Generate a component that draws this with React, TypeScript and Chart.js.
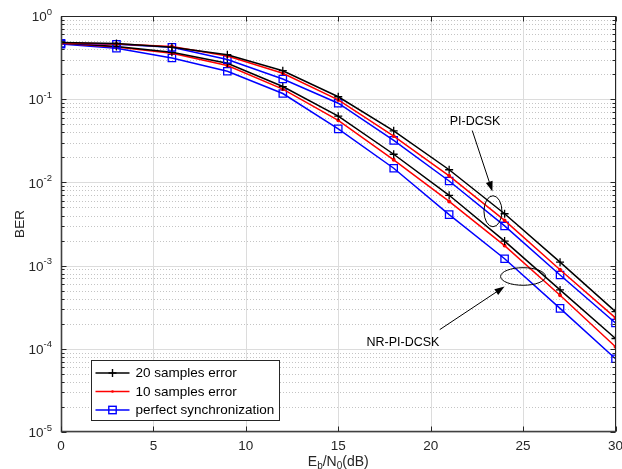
import React, { useEffect, useRef } from "react";
import { Chart, registerables } from "chart.js";

Chart.register(...registerables);

// ---------- data ----------
const snrDb = [0, 3, 6, 9, 12, 15, 18, 21, 24, 27, 30];

// PI-DCSK (upper group)
const piDcsk20 = [0.48, 0.467, 0.42, 0.343, 0.22, 0.107, 0.0417, 0.0142, 0.0042, 0.0011, 0.00028];
const piDcsk10 = [0.475, 0.462, 0.43, 0.331, 0.205, 0.098, 0.036, 0.012, 0.0035, 0.00089, 0.000235];
const piDcskPerfect = [0.47, 0.457, 0.42, 0.3, 0.175, 0.0895, 0.032, 0.0104, 0.003, 0.00077, 0.000204];

// NR-PI-DCSK (lower group)
const nrPiDcsk20 = [0.475, 0.43, 0.366, 0.27, 0.142, 0.0625, 0.0218, 0.007, 0.00197, 0.00051, 0.000133];
const nrPiDcsk10 = [0.47, 0.425, 0.356, 0.254, 0.132, 0.0557, 0.0187, 0.0059, 0.00174, 0.00044, 0.000106];
const nrPiDcskPerfect = [0.46, 0.41, 0.313, 0.217, 0.117, 0.044, 0.0148, 0.0041, 0.00121, 0.000306, 0.000076];

const legendLabels = ["20 samples error", "10 samples error", "perfect synchronization"];
const xTickValues = [0, 5, 10, 15, 20, 25, 30];
const yDecadeExponents = [0, -1, -2, -3, -4, -5];
const annotationTexts = ["PI-DCSK", "NR-PI-DCSK"];

// annotation anchor points in data coordinates [x (dB), y (BER)]
const piTextAt = [22.4, 0.0534];
const piArrowFrom = [22.25, 0.042];
const piArrowTo = [23.34, 0.0078];
const piEllipseAt = [23.37, 0.0045];
const nrTextAt = [18.5, 0.00012];
const nrArrowFrom = [20.49, 0.00017];
const nrArrowTo = [24.0, 0.00056];
const nrEllipseAt = [25.0, 0.00074];

// ---------- styles ----------
const FONT = '"Liberation Sans", Arial, Helvetica, sans-serif';
const AXIS_COLOR = "#262626";
const seriesStyles = [
  { color: "#000000", pointStyle: "cross", radius: 4 },
  { color: "#ff0000", pointStyle: "circle", radius: 1.3 },
  { color: "#0000ff", pointStyle: "rect", radius: 5.2 },
];

function toPoints(vals: number[]) {
  return snrDb.map((x, i) => ({ x, y: vals[i] }));
}

function makeDataset(vals: number[], styleIdx: number, label: string) {
  const s = seriesStyles[styleIdx];
  return {
    label,
    data: toPoints(vals),
    borderColor: s.color,
    backgroundColor: styleIdx === 1 ? s.color : "rgba(0,0,0,0)",
    borderWidth: 1.5,
    pointStyle: s.pointStyle,
    pointRadius: s.radius,
    pointBorderColor: s.color,
    pointBackgroundColor: styleIdx === 1 ? s.color : "rgba(0,0,0,0)",
    pointBorderWidth: 1.3,
    tension: 0,
    fill: false,
  };
}

type Part = { t: string; size: number; dy: number };

function richWidth(ctx: CanvasRenderingContext2D, parts: Part[]) {
  let w = 0;
  for (const p of parts) {
    ctx.font = `${p.size}px ${FONT}`;
    w += ctx.measureText(p.t).width;
  }
  return w;
}

function drawRich(ctx: CanvasRenderingContext2D, parts: Part[], x: number, y: number, align: "left" | "right" | "center") {
  const w = richWidth(ctx, parts);
  let cx = align === "left" ? x : align === "right" ? x - w : x - w / 2;
  ctx.textAlign = "left";
  ctx.textBaseline = "middle";
  for (const p of parts) {
    ctx.font = `${p.size}px ${FONT}`;
    ctx.fillText(p.t, cx, y + p.dy);
    cx += ctx.measureText(p.t).width;
  }
}

function drawArrow(ctx: CanvasRenderingContext2D, x1: number, y1: number, x2: number, y2: number) {
  const ang = Math.atan2(y2 - y1, x2 - x1);
  const headLen = 10;
  const headW = 3.5;
  ctx.beginPath();
  ctx.moveTo(x1, y1);
  ctx.lineTo(x2 - Math.cos(ang) * headLen * 0.8, y2 - Math.sin(ang) * headLen * 0.8);
  ctx.stroke();
  ctx.beginPath();
  ctx.moveTo(x2, y2);
  ctx.lineTo(
    x2 - Math.cos(ang) * headLen + Math.sin(ang) * headW,
    y2 - Math.sin(ang) * headLen - Math.cos(ang) * headW
  );
  ctx.lineTo(
    x2 - Math.cos(ang) * headLen - Math.sin(ang) * headW,
    y2 - Math.sin(ang) * headLen + Math.cos(ang) * headW
  );
  ctx.closePath();
  ctx.fill();
}

const decorPlugin = {
  id: "matlabDecor",
  beforeDatasetsDraw(chart: any) {
    const { ctx, chartArea: a, scales } = chart;
    const xs = scales.x;
    const ys = scales.y;
    ctx.save();
    ctx.lineWidth = 1;
    // minor dotted y grid
    ctx.strokeStyle = "#c4c4c4";
    ctx.setLineDash([1, 2]);
    for (let e = -5; e < 0; e++) {
      for (let m = 2; m <= 9; m++) {
        const py = Math.round(ys.getPixelForValue(m * Math.pow(10, e))) + 0.5;
        ctx.beginPath();
        ctx.moveTo(a.left, py);
        ctx.lineTo(a.right, py);
        ctx.stroke();
      }
    }
    ctx.setLineDash([]);
    // major grid
    ctx.strokeStyle = "#dcdcdc";
    for (const e of yDecadeExponents) {
      const py = Math.round(ys.getPixelForValue(Math.pow(10, e))) + 0.5;
      ctx.beginPath();
      ctx.moveTo(a.left, py);
      ctx.lineTo(a.right, py);
      ctx.stroke();
    }
    for (const v of xTickValues) {
      const px = Math.round(xs.getPixelForValue(v)) + 0.5;
      ctx.beginPath();
      ctx.moveTo(px, a.top);
      ctx.lineTo(px, a.bottom);
      ctx.stroke();
    }
    ctx.restore();
  },
  afterDatasetsDraw(chart: any) {
    const { ctx, chartArea: a, scales } = chart;
    const xs = scales.x;
    const ys = scales.y;
    const P = (d: number[]) => [xs.getPixelForValue(d[0]), ys.getPixelForValue(d[1])];
    ctx.save();

    // box
    ctx.strokeStyle = AXIS_COLOR;
    ctx.lineWidth = 1;
    const L = Math.round(a.left) + 0.5;
    const R = Math.round(a.right) - 0.5;
    const T = Math.round(a.top) + 0.5;
    const B = Math.round(a.bottom) - 0.5;
    ctx.strokeRect(L, T, R - L, B - T);
    // heavier left & bottom axes
    ctx.strokeStyle = "#404040";
    ctx.lineWidth = 1.6;
    ctx.beginPath();
    ctx.moveTo(L, T);
    ctx.lineTo(L, B);
    ctx.lineTo(R, B);
    ctx.stroke();
    ctx.strokeStyle = AXIS_COLOR;
    ctx.lineWidth = 1;

    // x ticks (inward, top & bottom)
    for (const v of xTickValues) {
      const px = Math.round(xs.getPixelForValue(v)) + 0.5;
      ctx.beginPath();
      ctx.moveTo(px, B);
      ctx.lineTo(px, B - 5);
      ctx.moveTo(px, T);
      ctx.lineTo(px, T + 5);
      ctx.stroke();
    }
    // y ticks (inward, left & right), major and minor
    for (let e = -5; e <= 0; e++) {
      for (let m = 1; m <= 9; m++) {
        if (e === 0 && m > 1) break;
        const py = Math.round(ys.getPixelForValue(m * Math.pow(10, e))) + 0.5;
        const len = m === 1 ? 5 : 3;
        ctx.beginPath();
        ctx.moveTo(L, py);
        ctx.lineTo(L + len, py);
        ctx.moveTo(R, py);
        ctx.lineTo(R - len, py);
        ctx.stroke();
      }
    }

    // tick labels
    ctx.fillStyle = AXIS_COLOR;
    ctx.font = `13.5px ${FONT}`;
    ctx.textAlign = "center";
    ctx.textBaseline = "middle";
    for (const v of xTickValues) {
      ctx.fillText(String(v), xs.getPixelForValue(v), a.bottom + 14);
    }
    for (const e of yDecadeExponents) {
      const py = ys.getPixelForValue(Math.pow(10, e));
      drawRich(
        ctx,
        [
          { t: "10", size: 13.5, dy: 1.5 },
          { t: e === 0 ? "0" : "-" + String(-e), size: 9.5, dy: -4 },
        ],
        a.left - 9,
        py,
        "right"
      );
    }

    // axis titles
    drawRich(
      ctx,
      [
        { t: "E", size: 14, dy: 0 },
        { t: "b", size: 10, dy: 4 },
        { t: "/N", size: 14, dy: 0 },
        { t: "0", size: 10, dy: 4 },
        { t: "(dB)", size: 14, dy: 0 },
      ],
      (a.left + a.right) / 2,
      a.bottom + 30,
      "center"
    );
    ctx.save();
    ctx.translate(20, (a.top + a.bottom) / 2);
    ctx.rotate(-Math.PI / 2);
    ctx.font = `13.5px ${FONT}`;
    ctx.textAlign = "center";
    ctx.textBaseline = "middle";
    ctx.fillText("BER", 0, 0);
    ctx.restore();

    // annotations
    ctx.strokeStyle = "#000";
    ctx.fillStyle = "#000";
    ctx.lineWidth = 1;
    ctx.font = `12.5px ${FONT}`;
    ctx.textAlign = "center";
    ctx.textBaseline = "middle";
    let p = P(piTextAt);
    ctx.fillText(annotationTexts[0], p[0], p[1]);
    let f = P(piArrowFrom), t = P(piArrowTo);
    drawArrow(ctx, f[0], f[1], t[0], t[1]);
    p = P(piEllipseAt);
    ctx.beginPath();
    ctx.ellipse(p[0], p[1], 9, 15.5, 0, 0, Math.PI * 2);
    ctx.stroke();

    p = P(nrTextAt);
    ctx.fillText(annotationTexts[1], p[0], p[1]);
    f = P(nrArrowFrom);
    t = P(nrArrowTo);
    drawArrow(ctx, f[0], f[1], t[0], t[1]);
    p = P(nrEllipseAt);
    ctx.beginPath();
    ctx.ellipse(p[0], p[1], 22.5, 8.8, 0, 0, Math.PI * 2);
    ctx.stroke();

    // legend
    const lx = a.left + 30.5;
    const ly = a.bottom - 71.5;
    const lw = 188;
    const lh = 60;
    ctx.fillStyle = "#fff";
    ctx.fillRect(lx, ly, lw, lh);
    ctx.strokeStyle = AXIS_COLOR;
    ctx.lineWidth = 1;
    ctx.strokeRect(lx, ly, lw, lh);
    for (let i = 0; i < legendLabels.length; i++) {
      const s = seriesStyles[i];
      const ry = ly + 12.5 + i * 18.5;
      ctx.strokeStyle = s.color;
      ctx.lineWidth = 1.4;
      ctx.beginPath();
      ctx.moveTo(lx + 4, ry);
      ctx.lineTo(lx + 38, ry);
      ctx.stroke();
      const mx = lx + 21;
      if (s.pointStyle === "cross") {
        ctx.beginPath();
        ctx.moveTo(mx - 4, ry);
        ctx.lineTo(mx + 4, ry);
        ctx.moveTo(mx, ry - 4);
        ctx.lineTo(mx, ry + 4);
        ctx.stroke();
      } else if (s.pointStyle === "rect") {
        ctx.strokeRect(mx - 3.7, ry - 3.7, 7.4, 7.4);
      } else {
        ctx.fillStyle = s.color;
        ctx.beginPath();
        ctx.arc(mx, ry, 1.3, 0, Math.PI * 2);
        ctx.fill();
      }
      ctx.fillStyle = "#000";
      ctx.font = `13.5px ${FONT}`;
      ctx.textAlign = "left";
      ctx.textBaseline = "middle";
      ctx.fillText(legendLabels[i], lx + 44, ry + 0.5);
    }
    ctx.restore();
  },
};

export default function App() {
  const canvasRef = useRef<HTMLCanvasElement | null>(null);

  useEffect(() => {
    document.body.style.margin = "0";
    const canvas = canvasRef.current;
    if (!canvas) return;
    const chart = new Chart(canvas, {
      type: "line",
      data: {
        datasets: [
          makeDataset(piDcsk20, 0, legendLabels[0]),
          makeDataset(piDcsk10, 1, legendLabels[1]),
          makeDataset(piDcskPerfect, 2, legendLabels[2]),
          makeDataset(nrPiDcsk20, 0, legendLabels[0]),
          makeDataset(nrPiDcsk10, 1, legendLabels[1]),
          makeDataset(nrPiDcskPerfect, 2, legendLabels[2]),
        ] as any,
      },
      options: {
        responsive: false,
        maintainAspectRatio: false,
        animation: false,
        devicePixelRatio: 1,
        layout: { padding: { left: 61, right: 6, top: 16, bottom: 37 } },
        scales: {
          x: { type: "linear", min: 0, max: 30, display: false },
          y: { type: "logarithmic", min: 1e-5, max: 1, display: false },
        },
        plugins: {
          legend: { display: false },
          tooltip: { enabled: false },
        },
        events: [],
      },
      plugins: [decorPlugin],
    } as any);
    return () => chart.destroy();
  }, []);

  return (
    <div style={{ width: 622, height: 469, background: "#fff" }}>
      <canvas ref={canvasRef} width={622} height={469} style={{ display: "block" }} />
    </div>
  );
}
